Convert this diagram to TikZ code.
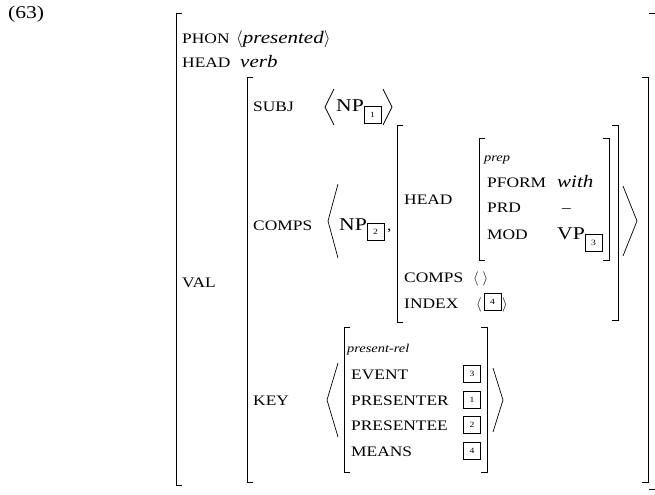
\documentclass[tikz,border=0pt]{standalone}
\usepackage{fontspec}
\setmainfont[FakeStretch=1.2]{Liberation Serif}
\usepackage{tikz}
\usetikzlibrary{positioning}
\tikzstyle{feat} = [draw=none, inner sep=0pt, anchor=base west, font=\fontsize{14.5bp}{17bp}\selectfont]
\tikzstyle{val} = [draw=none, inner sep=0pt, anchor=base west, font=\fontsize{17.5bp}{20bp}\selectfont\itshape]
\tikzstyle{sort} = [draw=none, inner sep=0pt, anchor=base west, font=\fontsize{12bp}{14bp}\selectfont\itshape]
\tikzstyle{cat} = [draw=none, inner sep=0pt, anchor=base west, font=\fontsize{18bp}{20bp}\selectfont]
\tikzstyle{tag} = [draw, line width=0.7bp, inner sep=0pt, minimum width=17bp, minimum height=17bp, font=\fontsize{8bp}{9bp}\selectfont]
\tikzstyle{brak} = [line width=1bp]
\tikzstyle{angle} = [line width=0.7bp]

\begin{document}
\begin{tikzpicture}[x=1bp, y=-1bp]
\useasboundingbox (0,0) rectangle (655,495);
\node (exnum) [feat, font=\fontsize{18bp}{20bp}\selectfont] at (8,19) {(63)};
\node (phon) [feat] at (182,43.5) {PHON};
\node (phonv) [val] at (236,43.5) {$\langle$presented$\rangle$};
\node (head) [feat] at (182,68) {HEAD};
\node (headv) [val] at (240,68) {verb};
\node (val) [feat] at (182,287) {VAL};
\node (subj) [feat] at (253,112) {SUBJ};
\node (np1) [cat] at (336,112) {NP};
\node (tag1) [tag] at ([xshift=8.5bp, yshift=-2.5bp]np1.base east) {1};
\node (comps) [feat] at (253,231) {COMPS};
\node (np2) [cat] at (339,231) {NP};
\node (tag2) [tag] at ([xshift=8.5bp, yshift=-1bp]np2.base east) {2};
\node (comma) [feat] at (387,231) {,};
\node (ihead) [feat] at (404,205) {HEAD};
\node (prep) [sort] at (484,162) {prep};
\node (pform) [feat] at (487,188) {PFORM};
\node (pformv) [val] at (557,188) {with};
\node (prd) [feat] at (487,213) {PRD};
\node (prdv) [feat] at (562,213) {--};
\node (mod) [feat] at (487,240) {MOD};
\node (vp) [cat] at (557,240) {VP};
\node (tag3) [tag] at ([xshift=8.5bp, yshift=-2.5bp]vp.base east) {3};
\node (icomps) [feat] at (404,282) {COMPS};
\node (icompsv) [feat] at (473,282) {$\langle\;\rangle$};
\node (index) [feat] at (404,308) {INDEX};
\node (indexl) [feat] at (476,308) {$\langle$};
\node (tag4a) [tag] at (492.5,302) {4};
\node (indexr) [feat] at (502,308) {$\rangle$};
\node (key) [feat] at (253,405) {KEY};
\node (prel) [sort] at (347,352) {present-rel};
\node (event) [feat] at (351,379) {EVENT};
\node (presenter) [feat] at (351,405) {PRESENTER};
\node (presentee) [feat] at (351,430) {PRESENTEE};
\node (means) [feat] at (351,456) {MEANS};
\node (tag3b) [tag] at (472,374) {3};
\node (tag1b) [tag] at (472,400) {1};
\node (tag2b) [tag] at (472,425) {2};
\node (tag4b) [tag] at (472,451) {4};
\draw [brak] (182,14) -- (176,14) -- (176,485) -- (182,485);
\draw [brak] (649,14) -- (656,14) -- (656,489) -- (649,489);
\draw [brak] (253,78) -- (247,78) -- (247,482) -- (253,482);
\draw [brak] (642,78) -- (648,78) -- (648,482) -- (642,482);
\draw [brak] (403,126) -- (397,126) -- (397,322) -- (403,322);
\draw [brak] (612,126) -- (618,126) -- (618,320) -- (612,320);
\draw [brak] (485,139) -- (479,139) -- (479,260) -- (485,260);
\draw [brak] (603,139) -- (609,139) -- (609,260) -- (603,260);
\draw [brak] (350,327) -- (344,327) -- (344,472) -- (350,472);
\draw [brak] (481,327) -- (487,327) -- (487,472) -- (481,472);
\draw [angle] (334,89) -- (325,107) -- (334,125);
\draw [angle] (383,89) -- (392,107) -- (383,125);
\draw [angle] (338,184) -- (328,221) -- (338,258);
\draw [angle] (623,186) -- (637,221) -- (623,256);
\draw [angle] (338,363) -- (327,400) -- (338,437);
\draw [angle] (493,368) -- (503,400) -- (493,432);
\end{tikzpicture}
\end{document}
